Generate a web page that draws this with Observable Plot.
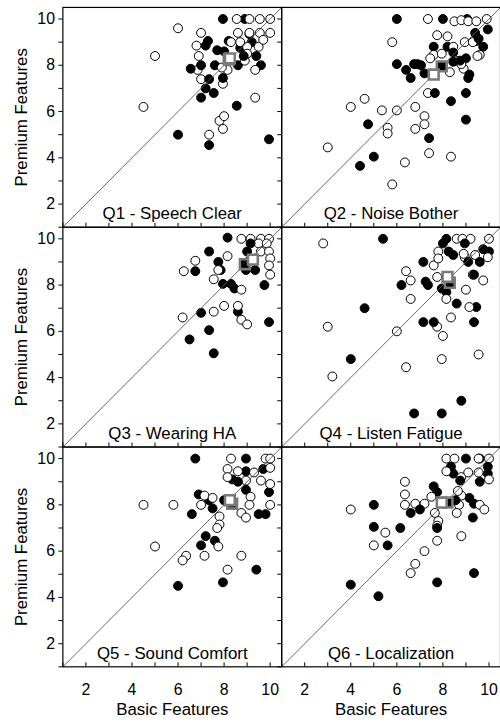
<!DOCTYPE html>
<html><head><meta charset="utf-8">
<script src="https://cdn.jsdelivr.net/npm/d3@7"></script>
<script src="https://cdn.jsdelivr.net/npm/@observablehq/plot@0.6"></script>
<style>html,body{margin:0;padding:0;background:#fff;overflow:hidden}</style>
</head><body><div id="chart"></div>
<script>
const titles = ["Q1 - Speech Clear","Q2 - Noise Bother","Q3 - Wearing HA","Q4 - Listen Fatigue","Q5 - Sound Comfort","Q6 - Localization"];
const xLabel = "Basic Features";
const yLabel = "Premium Features";
const labelTicks = [2,4,6,8,10];
const minorTicks = [1,2,3,4,5,6,7,8,9,10];
const axisDomain = [1,10.5];

const q1Filled = [[7.95,10.0],[8.9,10.0],[7.3,9.05],[7.2,8.85],[7.7,8.65],[8.2,9.05],[9.1,9.35],[8.7,8.75],[9.2,9.0],[8.0,8.6],[8.6,8.0],[9.6,8.0],[7.6,8.0],[6.55,7.85],[7.0,8.0],[7.35,7.4],[7.2,7.0],[7.0,6.6],[7.55,6.8],[7.95,7.45],[8.55,6.25],[6.0,5.0],[7.35,4.55],[9.95,4.8],[8.85,8.4],[9.4,8.4]];
const q1Open = [[6.0,9.6],[5.0,8.4],[7.0,9.4],[6.8,8.85],[6.9,8.4],[6.85,7.8],[7.0,7.4],[7.95,7.2],[8.15,7.8],[8.55,10],[9.1,10],[9.55,10],[10.0,10],[8.6,9.4],[9.1,9.4],[9.55,9.4],[10.0,9.4],[8.3,9.0],[8.7,9.0],[9.0,8.8],[9.5,8.8],[8.9,8.2],[9.35,7.8],[9.0,8.5],[9.35,6.6],[4.5,6.2],[7.8,5.6],[8.0,5.8],[7.35,5.0],[7.95,5.25],[7.9,7.9],[9.7,9.1]];
const q2Filled = [[6.0,10.0],[8.0,10.0],[9.05,10.0],[9.4,9.4],[9.45,9.05],[9.95,9.55],[9.75,8.8],[7.6,8.8],[8.2,8.8],[8.45,8.55],[9.0,8.3],[6.0,8.05],[6.4,7.8],[6.75,8.05],[6.9,8.05],[7.05,8.0],[6.6,7.45],[7.2,7.65],[8.45,8.15],[9.1,7.45],[9.15,7.6],[9.0,6.8],[7.65,6.8],[8.35,6.45],[9.0,5.65],[4.75,5.45],[7.4,4.85],[5.0,4.05],[4.4,3.65],[8.75,8.2],[9.55,9.15]];
const q2Open = [[7.35,10.0],[8.5,9.9],[8.8,9.95],[9.1,9.9],[9.45,9.9],[9.9,10.0],[7.75,9.3],[8.2,9.25],[8.45,8.8],[8.95,9.0],[9.3,9.0],[9.6,8.45],[9.5,8.4],[5.8,9.0],[7.6,8.45],[7.45,8.3],[8.55,8.2],[8.9,7.85],[8.8,8.05],[8.3,7.7],[7.35,6.8],[4.0,6.2],[4.6,6.55],[5.35,6.05],[6.0,6.05],[6.8,6.2],[7.2,5.8],[7.2,5.45],[6.8,5.25],[5.6,5.3],[5.6,5.05],[3.0,4.45],[7.4,4.2],[6.35,3.8],[8.35,4.05],[5.8,2.85],[7.95,8.5]];
const q3Filled = [[8.15,10.05],[7.35,9.45],[7.75,9.0],[6.75,8.6],[7.85,8.65],[9.15,9.8],[9.0,9.45],[9.1,9.05],[8.95,8.65],[9.35,8.65],[7.95,8.05],[8.3,8.05],[8.45,7.85],[9.75,8.0],[7.0,6.8],[8.6,6.85],[9.95,6.4],[7.35,6.05],[6.5,5.65],[7.55,5.05]];
const q3Open = [[8.75,10.0],[9.15,10.0],[9.6,10.0],[9.95,10.0],[9.5,9.8],[9.85,9.8],[9.6,9.45],[9.95,9.45],[10.0,9.15],[9.95,8.85],[10.0,8.45],[6.75,9.05],[6.25,8.6],[8.15,9.25],[7.75,8.65],[7.55,8.25],[8.75,7.8],[8.0,7.1],[7.55,6.85],[8.6,7.1],[8.75,6.5],[9.0,6.3],[6.2,6.6]];
const q4Filled = [[5.4,10.0],[8.15,10.0],[8.0,9.8],[8.25,9.45],[8.45,9.3],[8.95,9.8],[9.75,9.55],[10.0,9.45],[9.1,9.0],[9.6,9.0],[7.15,9.0],[7.25,8.15],[7.35,8.0],[6.2,8.0],[9.35,8.45],[7.95,7.85],[8.15,7.7],[8.6,7.2],[9.45,7.05],[9.35,6.4],[4.6,7.0],[7.15,6.4],[7.6,6.4],[4.0,4.8],[8.8,3.0],[6.75,2.45],[7.95,2.45]];
const q4Open = [[2.8,9.8],[8.6,10.0],[8.85,10.0],[9.2,10.0],[10.0,10.0],[7.8,9.45],[8.95,9.2],[9.4,9.3],[9.95,9.2],[7.6,8.85],[9.3,8.45],[6.4,8.6],[6.6,8.2],[7.75,8.35],[9.75,8.2],[9.0,7.8],[6.6,7.4],[8.15,7.4],[9.15,7.05],[8.35,6.6],[7.75,6.2],[8.0,5.8],[3.0,6.2],[6.0,6.0],[7.95,4.8],[9.55,5.0],[6.4,4.45],[3.2,4.05],[7.8,9.15],[8.9,9.35]];
const q5Filled = [[6.75,10.0],[8.95,10.0],[8.95,9.45],[9.7,9.55],[8.35,9.1],[8.95,8.65],[9.95,8.55],[6.9,8.45],[7.35,8.2],[7.5,7.85],[8.0,8.2],[6.6,7.6],[9.5,7.6],[9.8,7.6],[7.2,6.65],[7.0,6.25],[7.6,6.45],[9.4,5.2],[6.0,4.5],[7.95,4.65],[8.6,9.0]];
const q5Open = [[8.3,10.0],[9.8,10.0],[10.0,10.0],[8.15,9.55],[8.6,9.45],[8.15,9.2],[8.95,9.05],[9.6,9.05],[9.3,9.4],[10.0,9.6],[10.0,8.9],[9.15,8.35],[9.1,8.0],[10.0,8.0],[8.75,7.65],[8.95,7.45],[4.5,8.0],[5.8,8.0],[7.15,8.4],[7.0,8.0],[7.8,7.5],[7.8,7.15],[7.7,7.0],[5.0,6.2],[6.35,5.8],[6.2,5.6],[7.15,5.8],[7.75,6.2],[8.75,5.8],[8.15,5.2],[7.5,8.3]];
const q6Filled = [[9.0,10.0],[9.6,10.0],[8.35,9.65],[8.45,9.35],[9.95,9.65],[9.95,9.35],[8.75,9.05],[9.6,9.0],[7.6,8.8],[7.75,8.55],[9.15,8.3],[9.35,8.05],[5.0,8.0],[6.6,7.65],[7.0,7.8],[9.3,7.45],[5.0,7.05],[6.15,7.0],[5.6,6.25],[7.75,7.0],[9.35,5.05],[7.75,4.65],[4.0,4.55],[5.2,4.05],[8.55,8.2]];
const q6Open = [[8.15,10.0],[8.5,10.0],[10.0,10.0],[9.55,10.0],[8.15,9.45],[8.8,9.2],[9.1,9.4],[9.55,9.4],[10.0,9.1],[6.35,9.0],[6.35,8.45],[6.35,8.0],[6.8,8.05],[7.2,8.05],[4.0,7.8],[7.65,7.65],[7.8,7.3],[7.75,7.1],[8.8,8.4],[8.7,8.0],[8.6,7.65],[9.6,8.0],[9.8,7.8],[5.5,6.8],[5.0,6.25],[8.8,6.65],[7.75,6.45],[7.2,6.0],[6.8,5.45],[6.6,5.05],[7.5,8.35],[8.65,8.6]];

const meanFilled = [[8.2,8.25],[7.95,7.95],[8.9,8.9],[8.3,8.1],[8.35,8.05],[8.2,8.1]];
const meanOpen = [[8.25,8.3],[7.6,7.6],[9.25,9.1],[8.2,8.35],[8.25,8.2],[7.95,8.1]];

const filledSets = [q1Filled,q2Filled,q3Filled,q4Filled,q5Filled,q6Filled];
const openSets = [q1Open,q2Open,q3Open,q4Open,q5Open,q6Open];

const points = [];
const means = [];
const panels = titles.map((t,i) => ({title:t, col:i%2, row:Math.floor(i/2)}));
panels.forEach((p,i) => {
  const f = filledSets[i], o = openSets[i];
  const n = Math.max(f.length, o.length);
  for (let k = 0; k < n; k++) {
    if (k < f.length) points.push({col:p.col,row:p.row,x:f[k][0],y:f[k][1],fill:"#000"});
    if (k < o.length) points.push({col:p.col,row:p.row,x:o[k][0],y:o[k][1],fill:"#fff"});
  }
  means.push({col:p.col,row:p.row,x:meanFilled[i][0],y:meanFilled[i][1],fill:"#000"});
  means.push({col:p.col,row:p.row,x:meanOpen[i][0],y:meanOpen[i][1],fill:"#fff"});
});

const chart = Plot.plot({
  width: 505, height: 726,
  marginLeft: 63, marginRight: 0, marginTop: 6, marginBottom: 53,
  style: {fontFamily: "'Liberation Sans', Arial, sans-serif", fontSize: "16px", color: "#000", background: "#fff"},
  fx: {axis: null, padding: 0, domain: [0,1]},
  fy: {axis: null, padding: 0, domain: [0,1,2]},
  x: {domain: axisDomain},
  y: {domain: axisDomain},
  color: {type: "identity"},
  marks: [
    Plot.axisX({ticks: minorTicks, tickSize: 4, dy: -4, tickFormat: () => "", facetAnchor: null, label: null, stroke: "#000"}),
    Plot.axisX({ticks: labelTicks, tickSize: 0, tickPadding: 17, facetAnchor: "bottom", label: null, fontSize: 16}),
    Plot.axisY({ticks: minorTicks, tickSize: 4, tickFormat: () => "", facetAnchor: null, label: null, stroke: "#000"}),
    Plot.axisY({ticks: labelTicks, tickSize: 0, tickPadding: 8, facetAnchor: "left", label: null, fontSize: 16}),
    Plot.dot(points, {x: "x", y: "y", fx: "col", fy: "row", r: 4.5, fill: "fill", stroke: "#000", strokeWidth: 1}),
    Plot.line(axisDomain, {x: d => d, y: d => d, stroke: "#555", strokeWidth: 0.9}),
    Plot.dot(means, {x: "x", y: "y", fx: "col", fy: "row", symbol: "square", r: 5.6, fill: "fill", stroke: "#7a7a7a", strokeWidth: 2.6}),
    Plot.frame({stroke: "#000", strokeWidth: 1.2}),
    Plot.text(panels, {fx: "col", fy: "row", text: "title", frameAnchor: "bottom", dy: -8, fontSize: 17}),
    Plot.text([0,1,2], {fy: d => d, fx: () => 0, frameAnchor: "left", textAnchor: "middle", lineAnchor: "middle", dx: -42, rotate: -90, text: () => yLabel, fontSize: 17}),
    Plot.text([0,1], {fx: d => d, fy: () => 2, frameAnchor: "bottom", dy: 49, text: () => xLabel, fontSize: 17})
  ]
});
document.getElementById("chart").appendChild(chart);
</script></body></html>
